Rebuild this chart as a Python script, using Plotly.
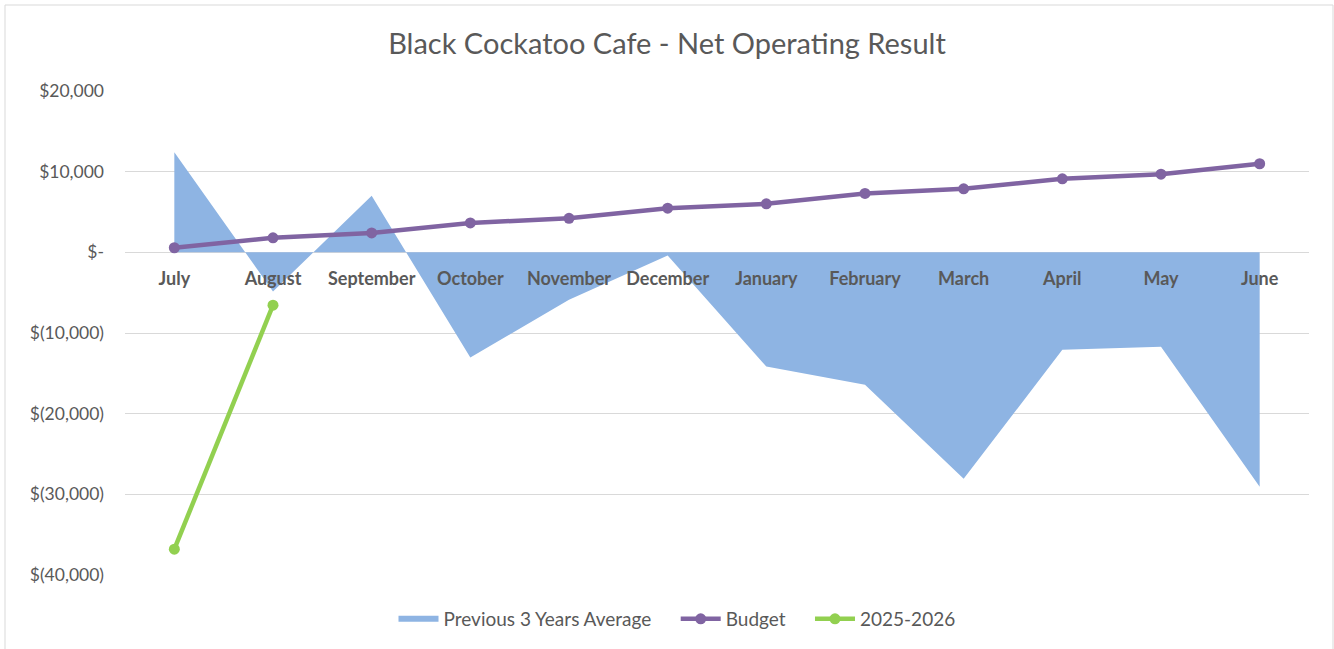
import plotly.graph_objects as go

months = ["July", "August", "September", "October", "November", "December",
          "January", "February", "March", "April", "May", "June"]
prev_avg = [12400, -4850, 7000, -13040, -5880, -400, -14160, -16430, -28070, -12090, -11710, -29070]
budget = [570, 1800, 2400, 3650, 4220, 5470, 6010, 7300, 7880, 9120, 9690, 10980]
current_months = ["July", "August"]
current = [-36800, -6550]
y_ticks = [20000, 10000, 0, -10000, -20000, -30000, -40000]


def acct(v):
    if v == 0:
        return "$-"
    if v < 0:
        return "$({:,})".format(-v)
    return "${:,}".format(v)


GRAY = "#595959"
FONT = "Lato"
PAD = "\u00a0" * 4

fig = go.Figure()
fig.add_trace(go.Scatter(
    x=months, y=prev_avg, name="Previous 3 Years Average" + PAD,
    mode="none", fill="tozeroy", fillcolor="#8EB4E3",
))
fig.add_trace(go.Scatter(
    x=months, y=budget, name="Budget" + PAD, mode="lines+markers",
    line=dict(color="#8064A2", width=4.5),
    marker=dict(color="#8064A2", size=11),
))
fig.add_trace(go.Scatter(
    x=current_months, y=current, name="2025-2026", mode="lines+markers",
    line=dict(color="#92D050", width=4.5),
    marker=dict(color="#92D050", size=11),
))

fig.update_layout(
    width=1334, height=649,
    autosize=False,
    margin=dict(l=125, r=25, t=91, b=74, autoexpand=False),
    paper_bgcolor="white", plot_bgcolor="white",
    font=dict(family=FONT, color=GRAY),
    title=dict(text="Black Cockatoo Cafe - Net Operating Result",
               x=0.5, xref="container", xanchor="center",
               y=1 - 44 / 649, yref="container", yanchor="middle",
               font=dict(size=29, color=GRAY, family=FONT)),
    showlegend=True,
    legend=dict(orientation="h", x=(677 - 125) / 1184, xanchor="center",
                y=(575 - 619) / 484, yanchor="middle",
                font=dict(size=19, color=GRAY, family=FONT),
                itemwidth=40, traceorder="normal"),
    xaxis=dict(
        type="category", categoryorder="array", categoryarray=months,
        range=[-0.5, 11.5], anchor="free", position=2 / 3,
        showgrid=False, showline=False, zeroline=False, ticks="",
        tickangle=0, ticklabelstandoff=14,
        tickfont=dict(size=18, color=GRAY, family=FONT),
        tickprefix="<b>", ticksuffix="</b>",
    ),
    yaxis=dict(
        range=[-40000, 20000], tickvals=y_ticks,
        ticktext=[acct(v) for v in y_ticks],
        showgrid=True, gridcolor="#D9D9D9", gridwidth=1,
        zeroline=True, zerolinecolor="#D9D9D9", zerolinewidth=1,
        showline=False, ticks="", ticklabelstandoff=20,
        tickfont=dict(size=17.5, color=GRAY, family=FONT),
    ),
    shapes=[dict(type="rect", xref="paper", yref="paper",
                 x0=(5 - 125) / 1184, x1=(1333 - 125) / 1184,
                 y0=(575 - 660) / 484, y1=(575 - 5) / 484,
                 line=dict(color="#D9D9D9", width=1), fillcolor="rgba(0,0,0,0)",
                 layer="below")],
)

fig.write_html("out.html")
